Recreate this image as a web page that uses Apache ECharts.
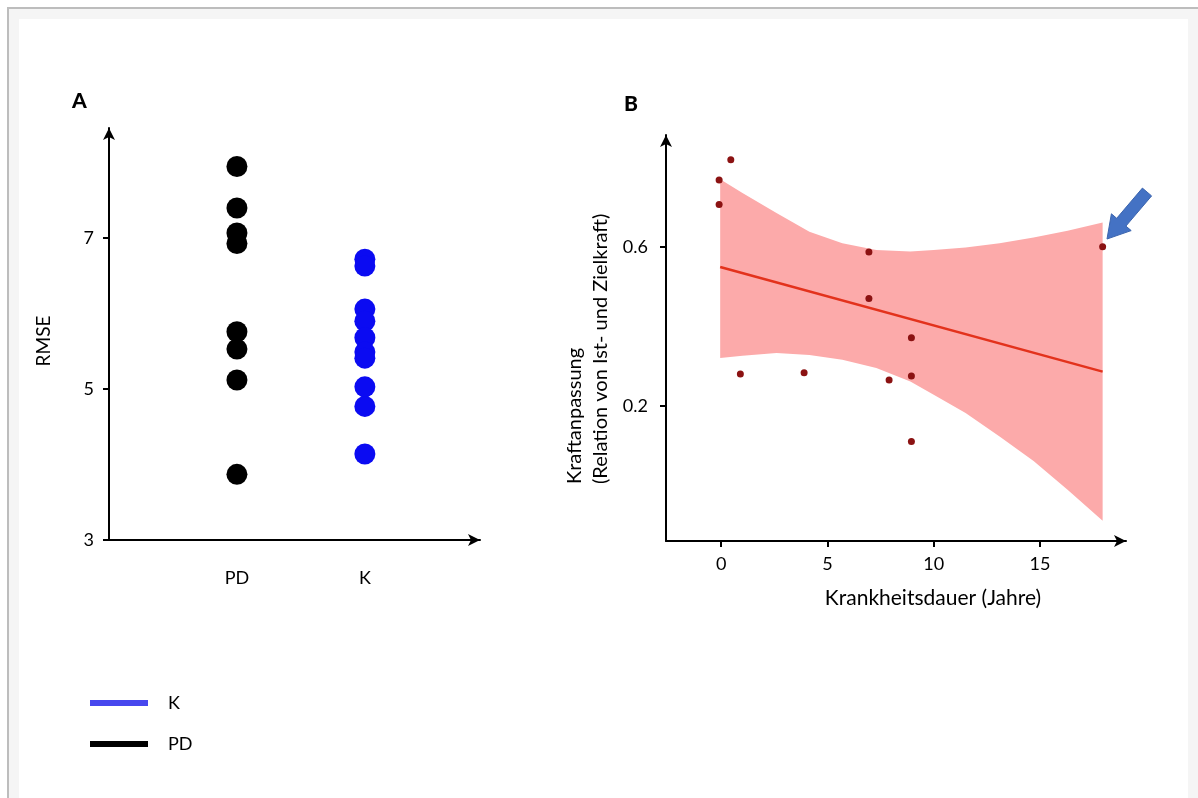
<!DOCTYPE html>
<html>
<head>
<meta charset="utf-8">
<script src="https://cdn.jsdelivr.net/npm/echarts@6/dist/echarts.min.js"></script>
<style>
  html, body { margin: 0; padding: 0; background: #fff; }
  .frame { position: absolute; left: 7px; top: 7px; width: 1191px; height: 791px;
    background: #f5f5f5; border-top: 2px solid #bdbdbd; border-left: 2px solid #bdbdbd; box-sizing: border-box; }
  .inner { position: absolute; left: 19px; top: 19px; width: 1169px; height: 779px; background: #fff; }
  #main { position: absolute; left: 0; top: 0; width: 1198px; height: 798px; }
</style>
</head>
<body>
<div class="frame"></div>
<div class="inner"></div>
<div id="main"></div>
<script>
// Panel A: RMSE per group
const groupNames = ['PD', 'K'];
const pdRmse = [7.95, 7.40, 7.07, 6.93, 5.76, 5.53, 5.12, 3.87];
const kRmse = [6.72, 6.63, 6.06, 5.90, 5.68, 5.49, 5.41, 5.03, 4.77, 4.14];

// Panel B: Kraftanpassung vs. Krankheitsdauer
const dauerJahre = [-0.1, -0.1, 0.45, 0.9, 3.9, 6.95, 6.95, 7.9, 8.95, 8.95, 8.95, 17.95];
const kraftanpassung = [0.768, 0.706, 0.819, 0.280, 0.283, 0.587, 0.470, 0.265, 0.371, 0.275, 0.110, 0.600];

// regression line + confidence band
const fitX = [-0.05, 17.95];
const fitY = [0.549, 0.286];
const bandX = [-0.05, 1, 2.6, 4.15, 5.7, 7.3, 8.9, 10, 11.5, 13.1, 14.7, 16.3, 17.95];
const bandUpper = [0.770, 0.735, 0.685, 0.638, 0.609, 0.592, 0.588, 0.592, 0.598, 0.609, 0.623, 0.640, 0.661];
const bandLower = [0.320, 0.326, 0.333, 0.328, 0.316, 0.295, 0.261, 0.228, 0.182, 0.123, 0.061, -0.011, -0.089];

const yTicksA = [3, 5, 7];
const xTicksB = [0, 5, 10, 15];
const yTicksB = [0.2, 0.6];

const FONT = 'Lato, "Open Sans", sans-serif';
const chart = echarts.init(document.getElementById('main'), null, { renderer: 'canvas' });

const axisLine = {
  onZero: false,
  symbol: ['none', 'arrow'],
  symbolSize: [9, 12],
  lineStyle: { color: '#000', width: 2 }
};

// confidence band as one polygon: upper edge left->right, lower edge back
function renderBand(params, api) {
  if (params.dataIndex !== 0) return;
  var pts = [];
  for (var i = 0; i < bandX.length; i++) pts.push(api.coord([bandX[i], bandUpper[i]]));
  for (var j = bandX.length - 1; j >= 0; j--) pts.push(api.coord([bandX[j], bandLower[j]]));
  return {
    type: 'polygon',
    shape: { points: pts },
    style: { fill: '#fcaaaa' }
  };
}

var option = {
  animation: false,
  textStyle: { fontFamily: FONT },
  title: [
    { text: 'A', left: 72, top: 91, padding: 0, textStyle: { fontSize: 21, fontWeight: 900, color: '#000', fontFamily: FONT } },
    { text: 'B', left: 624, top: 94, padding: 0, textStyle: { fontSize: 21, fontWeight: 900, color: '#000', fontFamily: FONT } }
  ],
  legend: {
    left: 90,
    top: 693,
    padding: 0,
    orient: 'vertical',
    icon: 'rect',
    itemWidth: 58,
    itemHeight: 6,
    itemGap: 21,
    selectedMode: false,
    data: [
      { name: 'K', itemStyle: { color: '#4747ee' } },
      { name: 'PD', itemStyle: { color: '#000' } }
    ],
    textStyle: { fontSize: 18, color: '#000', fontFamily: FONT, lineHeight: 20, padding: [0, 0, 0, 15] }
  },
  grid: [
    { left: 109, top: 128, width: 371, height: 412 },
    { left: 666, top: 135, width: 460, height: 406 }
  ],
  xAxis: [
    {
      type: 'value', gridIndex: 0, min: 0, max: 2.9,
      splitLine: { show: false },
      axisLine: axisLine,
      axisTick: { show: false },
      axisLabel: {
        customValues: [1, 2],
        formatter: function (v) { return groupNames[Math.round(v) - 1]; },
        margin: 29, fontSize: 18, color: '#000', fontFamily: FONT
      }
    },
    {
      type: 'value', gridIndex: 1, min: -2.6, max: 19.05,
      splitLine: { show: false },
      axisLine: axisLine,
      axisTick: { customValues: xTicksB, length: 6, lineStyle: { color: '#000', width: 2 } },
      axisLabel: { customValues: xTicksB, margin: 14, fontSize: 18, color: '#000', fontFamily: FONT },
      name: 'Krankheitsdauer (Jahre)',
      nameLocation: 'middle',
      nameGap: 47,
      nameTextStyle: { fontSize: 21, color: '#000', fontFamily: FONT, padding: [0, 0, 0, 74] }
    }
  ],
  yAxis: [
    {
      type: 'value', gridIndex: 0, min: 3, max: 8.46,
      splitLine: { show: false },
      axisLine: axisLine,
      axisTick: { customValues: yTicksA, length: 6, lineStyle: { color: '#000', width: 2 } },
      axisLabel: { customValues: yTicksA, margin: 15, fontSize: 18, color: '#000', fontFamily: FONT },
      name: 'RMSE',
      nameLocation: 'middle',
      nameGap: 56,
      nameTextStyle: { fontSize: 19, color: '#000', fontFamily: FONT, padding: [0, 14, 0, 0] }
    },
    {
      type: 'value', gridIndex: 1, min: -0.14, max: 0.881,
      splitLine: { show: false },
      axisLine: axisLine,
      axisTick: { customValues: yTicksB, length: 6, lineStyle: { color: '#000', width: 2 } },
      axisLabel: {
        customValues: yTicksB,
        formatter: function (v) { return v.toFixed(1); },
        margin: 18, fontSize: 18, color: '#000', fontFamily: FONT
      }
    }
  ],
  graphic: [
    {
      type: 'text',
      x: 588, y: 484,
      rotation: Math.PI / 2,
      style: {
        text: 'Kraftanpassung\n(Relation von Ist- und Zielkraft)',
        align: 'left', verticalAlign: 'middle',
        font: '20px ' + FONT, fill: '#000', lineHeight: 26
      }
    },
    {
      // blue arrow pointing at the 18-year patient
      type: 'polygon',
      shape: {
        points: [[1107, 239], [1131.2, 230.6], [1125.9, 226.1], [1151.6, 195.9],
                 [1142.4, 188.1], [1116.7, 218.3], [1111.4, 213.8]]
      },
      style: { fill: '#4472c4', stroke: '#3b64ad', lineWidth: 1 },
      z: 10
    }
  ],
  series: [
    {
      name: 'PD', type: 'scatter', xAxisIndex: 0, yAxisIndex: 0,
      symbolSize: 21,
      itemStyle: { color: '#000', opacity: 1 },
      data: pdRmse.map(function (v) { return [1, v]; })
    },
    {
      name: 'K', type: 'scatter', xAxisIndex: 0, yAxisIndex: 0,
      symbolSize: 21,
      itemStyle: { color: '#0b0bf2', opacity: 1 },
      data: kRmse.map(function (v) { return [2, v]; })
    },
    {
      name: 'ci', type: 'custom', xAxisIndex: 1, yAxisIndex: 1,
      renderItem: renderBand,
      data: bandX.map(function (x, i) { return [x, bandLower[i], bandUpper[i]]; }),
      encode: { x: 0, y: [1, 2] },
      silent: true,
      z: 1
    },
    {
      name: 'fit', type: 'line', xAxisIndex: 1, yAxisIndex: 1,
      symbol: 'none',
      lineStyle: { color: '#e3321c', width: 2.5 },
      data: fitX.map(function (x, i) { return [x, fitY[i]]; }),
      z: 3
    },
    {
      name: 'patients', type: 'scatter', xAxisIndex: 1, yAxisIndex: 1,
      symbolSize: 7,
      itemStyle: { color: '#8b1212', opacity: 1 },
      data: dauerJahre.map(function (x, i) { return [x, kraftanpassung[i]]; }),
      z: 4
    }
  ]
};

chart.setOption(option);
</script>
</body>
</html>
